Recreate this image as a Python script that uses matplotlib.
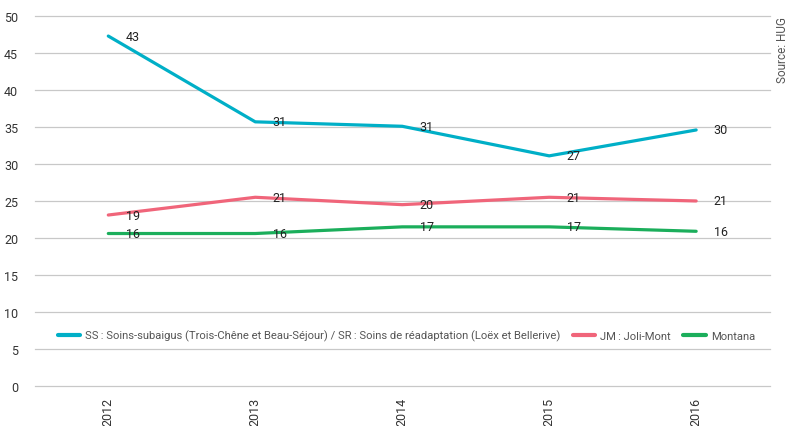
import matplotlib
matplotlib.use("Agg")
import matplotlib.pyplot as plt

plt.rcParams['font.family'] = ['Roboto', 'DejaVu Sans']

# Data
years = ['2012', '2013', '2014', '2015', '2016']
ss_values = [47.3, 35.7, 35.1, 31.1, 34.6]
jm_values = [23.1, 25.5, 24.5, 25.5, 25.0]
mt_values = [20.6, 20.6, 21.5, 21.5, 20.9]
ss_labels = ['43', '31', '31', '27', '30']
jm_labels = ['19', '21', '20', '21', '21']
mt_labels = ['16', '16', '17', '17', '16']
series_names = ['SS\u202f: Soins-subaigus (Trois-Chêne et Beau-Séjour) / SR\u202f: Soins de réadaptation (Loëx et Bellerive)',
                'JM\u202f: Joli-Mont', 'Montana']
colors = ['#00AFC7', '#F0657A', '#1BAE5B']

fig = plt.figure(figsize=(7.91, 4.27), dpi=100)
ax = fig.add_axes([0.044, 0.094, 0.929, 0.866])

x = list(range(len(years)))
for vals, labs, name, c in zip([ss_values, jm_values, mt_values],
                               [ss_labels, jm_labels, mt_labels],
                               series_names, colors):
    ax.plot(x, vals, color=c, lw=2.3, label=name, solid_capstyle='round')
    for xi, v, l in zip(x, vals, labs):
        ax.annotate(l, (xi, v), xytext=(12.5, 0), textcoords='offset points',
                    va='center', ha='left', fontsize=9, color='#222222')

ax.set_xlim(-0.5, 4.5)
ax.set_ylim(0, 50)
ax.set_yticks(range(0, 51, 5))
ax.set_xticks(x)
ax.set_xticklabels(years, rotation=90)
ax.grid(axis='y', color='#c8c8c8', lw=0.9)
for gl in ax.get_ygridlines():
    gl.set_clip_on(False)
ax.set_axisbelow(True)
for s in ax.spines.values():
    s.set_visible(False)
ax.tick_params(axis='both', length=0, labelsize=9, colors='#333333')
ax.tick_params(axis='y', pad=12)
ax.tick_params(axis='x', pad=8)

leg = ax.legend(loc='lower left', bbox_to_anchor=(0.025, 0.108), ncol=3, frameon=False,
                fontsize=8.15, handlelength=2.0, columnspacing=1.05, handletextpad=0.45,
                labelcolor='#555555', borderaxespad=0)
for h in leg.get_lines():
    h.set_linewidth(3)

fig.text(0.997, 0.96, 'Source: HUG', rotation=90, ha='right', va='top',
         fontsize=8.5, color='#555555')

fig.savefig('out.png', dpi=100)
